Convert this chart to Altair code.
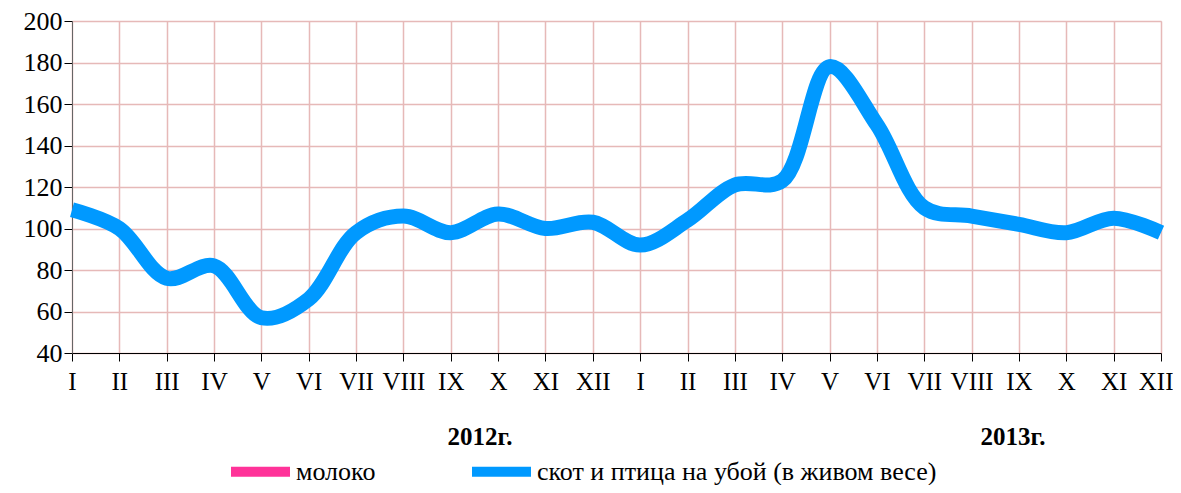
import altair as alt
import pandas as pd

months = ["I", "II", "III", "IV", "V", "VI", "VII", "VIII", "IX", "X", "XI", "XII"]
month_labels = months + months
series_names = ["молоко", "скот и птица на убой (в живом весе)"]
series_colors = ["#FF3399", "#0099FF"]
livestock = [109, 100, 76, 82, 57, 66, 98, 106, 98, 107, 100, 103,
             92, 104, 121, 123, 178, 150, 110, 106, 102, 98, 105, 98]
years = ["2012г.", "2013г."]

df = pd.DataFrame({
    "idx": list(range(len(livestock))),
    "value": livestock,
    "series": series_names[1],
})

label_arr = "[" + ",".join("'" + m + "'" for m in month_labels) + "]"
FONT = "Liberation Serif"
LEG_FONT = "'Liberation Serif', 'DejaVu Serif', serif"
last = len(month_labels) - 1

x_enc = alt.X(
    "idx:Q",
    scale=alt.Scale(domain=[0, last], nice=False, zero=False),
    axis=alt.Axis(
        values=list(range(len(month_labels))), labelExpr=label_arr + "[datum.value]",
        title=None, grid=True, gridColor="#E6B9B8", gridWidth=1.5,
        domainColor="#000000", tickColor="#000000", tickSize=8,
        labelFont=FONT, labelFontSize=25, labelColor="#000000",
        labelPadding=8, labelFlush=False, labelOverlap=False,
        labelAlign={"condition": {"test": f"datum.value == {last}", "value": "right"}, "value": "center"},
        labelOffset={"condition": {"test": f"datum.value == {last}", "value": 12}, "value": 0},
    ),
)
y_enc = alt.Y(
    "value:Q",
    scale=alt.Scale(domain=[40, 200], nice=False, zero=False),
    axis=alt.Axis(
        values=list(range(40, 201, 20)), title=None, grid=True,
        gridColor="#E6B9B8", gridWidth=1.5,
        domainColor="#666666", tickColor="#000000", tickSize=8,
        labelFont=FONT, labelFontSize=26, labelColor="#000000",
        labelPadding=2,
    ),
)

line = alt.Chart(df).mark_line(
    interpolate="catmull-rom", strokeWidth=15, strokeCap="butt"
).encode(
    x=x_enc,
    y=y_enc,
    color=alt.Color(
        "series:N",
        scale=alt.Scale(domain=series_names, range=series_colors),
        legend=alt.Legend(
            title=None, orient="none", direction="horizontal",
            legendX=154, legendY=416, padding=0,
            symbolType="stroke", symbolStrokeWidth=10, symbolSize=3481,
            labelFont=LEG_FONT, labelFontSize=26, labelColor="#000000",
            labelOffset=1, columnPadding=76, labelLimit=800,
        ),
    ),
)

t1 = alt.Chart(pd.DataFrame({"t": [years[0]]})).mark_text(
    font=FONT, fontSize=25, fontWeight="bold", color="#000000", align="center", baseline="middle"
).encode(text="t:N", x=alt.value(408), y=alt.value(416))
t2 = alt.Chart(pd.DataFrame({"t": [years[1]]})).mark_text(
    font=FONT, fontSize=25, fontWeight="bold", color="#000000", align="center", baseline="middle"
).encode(text="t:N", x=alt.value(941), y=alt.value(416))

chart = alt.layer(line, t1, t2).properties(
    width=1089, height=332,
    autosize=alt.AutoSizeParams(type="none"),
    padding={"left": 64, "top": 13, "right": 12, "bottom": 132},
).configure_view(stroke=None).configure(
    background="#FFFFFF", font=FONT
).configure_legend(labelFont=LEG_FONT)

chart.save("out.html", embed_options={"renderer": "svg", "actions": False})
